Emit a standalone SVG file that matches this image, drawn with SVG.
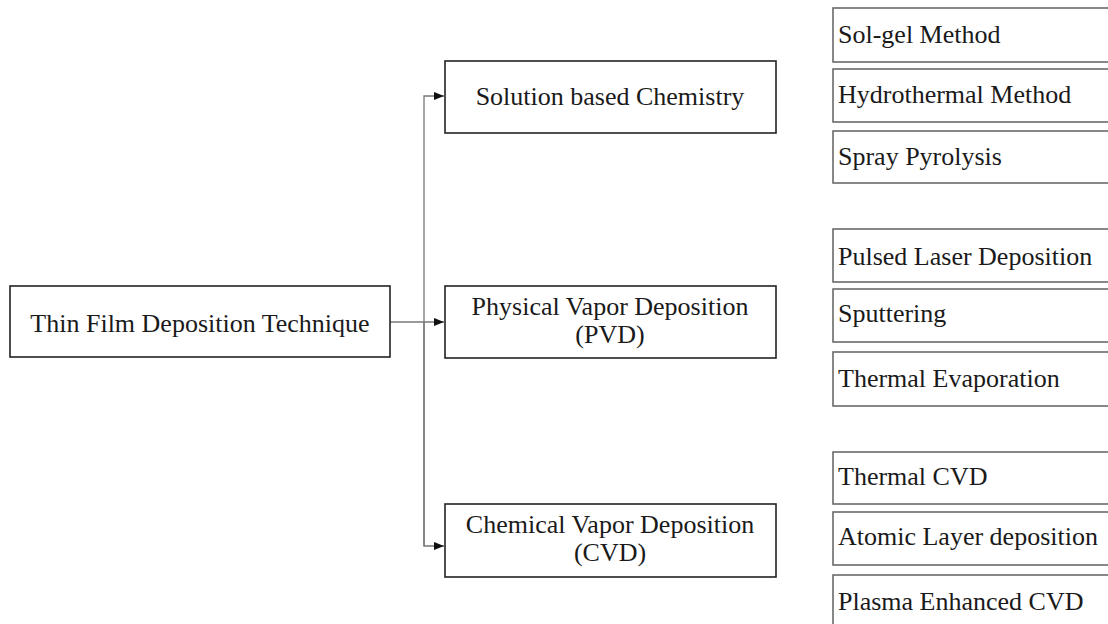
<svg xmlns="http://www.w3.org/2000/svg" width="1108" height="624" viewBox="0 0 1108 624">
<style>
.box{fill:#fff;stroke:#222;stroke-width:1.6}
.leaf{fill:#fff;stroke:#6a6a6a;stroke-width:1.6}
text{font-family:"Liberation Serif","Times New Roman",serif;font-size:26px;fill:#1a1a1a}
.c{text-anchor:middle}
.conn{fill:none;stroke:#777;stroke-width:1.3}
</style>
<defs>
<marker id="arr" viewBox="0 0 10 10" refX="10" refY="5" markerWidth="10" markerHeight="10" markerUnits="userSpaceOnUse" orient="auto">
<path d="M0,1 L10,5 L0,9 Z" fill="#111"/>
</marker>
</defs>
<rect width="1108" height="624" fill="#fff"/>
<g id="connectors">
<line class="conn" x1="390" y1="322" x2="444" y2="322" marker-end="url(#arr)"/>
<polyline class="conn" points="424,546 424,96 444,96" marker-end="url(#arr)"/>
<polyline class="conn" points="424,322 424,546 444,546" marker-end="url(#arr)"/>
</g>
<g id="root"><rect class="box" x="10" y="286" width="380" height="71"/><text class="c" x="200" y="332">Thin Film Deposition Technique</text></g>
<g id="solution"><rect class="box" x="445" y="61" width="331" height="72"/><text class="c" x="610" y="105">Solution based Chemistry</text></g>
<g id="pvd"><rect class="box" x="445" y="286" width="331" height="72"/><text class="c" x="610" y="315">Physical Vapor Deposition</text><text class="c" x="610" y="343">(PVD)</text></g>
<g id="cvd"><rect class="box" x="445" y="504" width="331" height="73"/><text class="c" x="610" y="533">Chemical Vapor Deposition</text><text class="c" x="610" y="561">(CVD)</text></g>
<g id="solgel"><rect class="leaf" x="833" y="8" width="300" height="54"/><text x="838" y="43">Sol-gel Method</text></g>
<g id="hydrothermal"><rect class="leaf" x="833" y="69" width="300" height="53"/><text x="838" y="103">Hydrothermal Method</text></g>
<g id="spray"><rect class="leaf" x="833" y="131" width="300" height="52"/><text x="838" y="165">Spray Pyrolysis</text></g>
<g id="pld"><rect class="leaf" x="833" y="229" width="300" height="53"/><text x="838" y="265">Pulsed Laser Deposition</text></g>
<g id="sputtering"><rect class="leaf" x="833" y="289" width="300" height="53"/><text x="838" y="322">Sputtering</text></g>
<g id="thermalevap"><rect class="leaf" x="833" y="352" width="300" height="54"/><text x="838" y="387">Thermal Evaporation</text></g>
<g id="thermalcvd"><rect class="leaf" x="833" y="452" width="300" height="52"/><text x="838" y="485">Thermal CVD</text></g>
<g id="ald"><rect class="leaf" x="833" y="512" width="300" height="53"/><text x="838" y="545">Atomic Layer deposition</text></g>
<g id="pecvd"><rect class="leaf" x="833" y="575" width="300" height="60"/><text x="838" y="610">Plasma Enhanced CVD</text></g>
</svg>
